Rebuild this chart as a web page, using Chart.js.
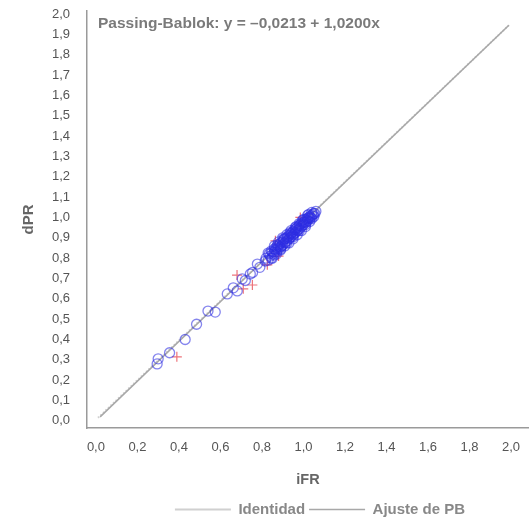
<!DOCTYPE html>
<html><head><meta charset="utf-8">
<script src="https://cdn.jsdelivr.net/npm/chart.js@4"></script>
<style>html,body{margin:0;padding:0;background:#fff}#w{width:529px;height:522px;position:relative}</style>
</head><body><div id="w"><canvas id="c"></canvas></div>
<script>
const titleText = "Passing-Bablok: y = \u20130,0213 + 1,0200x";
const xTicks = [0,0.2,0.4,0.6,0.8,1.0,1.2,1.4,1.6,1.8,2.0];
const yTicks = [0,0.1,0.2,0.3,0.4,0.5,0.6,0.7,0.8,0.9,1.0,1.1,1.2,1.3,1.4,1.5,1.6,1.7,1.8,1.9,2.0];
const circleX = [0.295,0.30,0.355,0.43,0.485,0.54,0.575,0.633,0.662,0.681,0.705,0.72,0.744,0.755,0.778,0.79,0.816,
 0.82,0.83,0.835,0.84,0.845,0.85,0.855,0.86,0.86,0.865,0.87,0.87,0.875,0.88,0.88,0.885,0.89,0.89,0.895,0.90,0.90,0.905,0.91,0.91,0.915,0.92,0.92,0.925,0.93,0.93,0.935,0.94,0.94,0.945,0.95,0.95,0.955,0.96,0.96,0.965,0.97,0.97,0.975,0.98,0.98,0.985,0.99,0.99,0.995,1.0,1.0,1.005,1.01,1.01,1.015,1.02,1.02,1.025,1.03,1.03,1.035,1.04,1.045,1.05,1.055,1.06,
 0.83,0.85,0.86,0.87,0.88,0.89,0.90,0.91,0.92,0.93,0.94,0.95,0.96,0.97,0.98,0.99,1.0,1.01,1.02,1.03,1.04,1.05,
 0.845,0.875,0.905,0.935,0.965,0.995,1.025,0.86,0.89,0.92,0.95,0.98,1.01,1.04];
const circleY = [0.28,0.305,0.335,0.40,0.475,0.54,0.535,0.624,0.654,0.639,0.698,0.69,0.722,0.73,0.771,0.755,0.786,
 0.80,0.79,0.82,0.81,0.80,0.83,0.82,0.845,0.83,0.84,0.855,0.83,0.85,0.86,0.845,0.87,0.855,0.875,0.86,0.88,0.865,0.89,0.875,0.895,0.88,0.90,0.885,0.905,0.895,0.91,0.90,0.92,0.905,0.925,0.915,0.93,0.92,0.94,0.925,0.945,0.935,0.95,0.94,0.96,0.945,0.965,0.955,0.97,0.96,0.975,0.965,0.98,0.975,0.99,0.98,0.995,0.985,1.0,0.995,1.005,1.0,1.01,1.015,1.02,1.02,1.03,
 0.825,0.80,0.86,0.82,0.88,0.84,0.90,0.86,0.915,0.875,0.935,0.895,0.95,0.915,0.97,0.935,0.99,0.955,1.01,0.98,1.025,1.005,
 0.835,0.865,0.895,0.925,0.955,0.985,1.015,0.815,0.845,0.875,0.905,0.935,0.965,0.995];
const crossX = [0.39,0.68,0.71,0.754,0.826,0.88,0.865,0.985];
const crossY = [0.315,0.717,0.649,0.668,0.767,0.81,0.885,1.0];
const identX = [0.01,1.99];
const identY = [0.015,1.945];
const pbX = [0.02,1.99];
const pbY = [0.02,1.945];
const seriesNames = ["Identidad","Ajuste de PB"];

const pts = (xs, ys) => xs.map((x,i)=>({x, y: ys[i]}));
const fmt = v => v.toFixed(1).replace('.', ',');
const FF = '"Liberation Sans", Arial, sans-serif';

const titlePlugin = {
  id:'pbTitle',
  afterLayout(chart){
    const L = chart.legend;
    if (L) {
      const shift = 320 - (L.left + L.right) / 2;
      L.left += shift; L.right += shift;
      L.top += 5; L.bottom += 5;
    }
  },
  afterDraw(chart){
    const {ctx, chartArea} = chart;
    ctx.save();
    ctx.font = 'bold 15.5px ' + FF;
    ctx.fillStyle = '#7a7a7a';
    ctx.textBaseline = 'middle';
    ctx.fillText(titleText, chartArea.left + 11, chartArea.top + 13);
    ctx.restore();
  }
};

new Chart(document.getElementById('c'), {
  type:'scatter',
  data:{datasets:[
    {label:'iFR/dPR', data: pts(circleX, circleY), pointStyle:'circle', pointRadius:5, pointHoverRadius:5,
     borderColor:'rgba(45,45,225,0.58)', backgroundColor:'rgba(0,0,0,0)', pointBorderWidth:1.3, showLine:false},
    {label:'outliers', data: pts(crossX, crossY), pointStyle:'cross', pointRadius:5,
     borderColor:'rgba(232,80,90,0.8)', backgroundColor:'rgba(232,80,90,0.8)', pointBorderWidth:1.2, showLine:false},
    {label: seriesNames[1], data: pts(pbX, pbY), showLine:true, pointRadius:0, borderColor:'#a8a8a8', borderWidth:1.6, backgroundColor:'#a8a8a8'},
    {label: seriesNames[0], data: pts(identX, identY), showLine:true, pointRadius:0, borderColor:'#d0d0d0', borderWidth:2, borderDash:[1.5,2], backgroundColor:'#d0d0d0'}
  ]},
  options:{
    responsive:true, maintainAspectRatio:false, animation:false,
    layout:{autoPadding:false, padding:{top:11,right:0,left:0,bottom:0}},
    plugins:{
      tooltip:{enabled:false},
      legend:{position:'bottom', reverse:true, fullSize:false,
        labels:{filter: it => seriesNames.includes(it.text), usePointStyle:true, pointStyle:'line', pointStyleWidth:56,
          padding:4, color:'#888', font:{family:FF, size:15, weight:'bold'}}}
    },
    scales:{
      x:{type:'linear', min:-0.043, max:2.087,
        afterBuildTicks: s => { s.ticks = xTicks.map(v=>({value:v})); },
        afterFit: s => { s.height = 65; },
        grid:{display:false}, border:{display:true, color:'#9a9a9a', width:1.5},
        ticks:{callback: v => fmt(v), color:'#555', padding:4, maxRotation:0, font:{family:FF, size:13}},
        title:{display:true, text:'iFR', color:'#666', padding:{top:1}, font:{family:FF, size:14.5, weight:'bold'}}},
      y:{type:'linear', min:-0.035, max:2.015,
        afterBuildTicks: s => { s.ticks = yTicks.map(v=>({value:v})); },
        afterFit: s => { s.width = 87; s.paddingTop = 0; s.paddingBottom = 0; },
        grid:{display:false}, border:{display:true, color:'#9a9a9a', width:1.5},
        ticks:{callback: v => fmt(v), color:'#555', padding:9, font:{family:FF, size:13}},
        title:{display:true, text:'dPR', color:'#666', padding:{top:20, bottom:0}, font:{family:FF, size:15, weight:'bold'}}}
    }
  },
  plugins:[titlePlugin]
});
</script></body></html>
